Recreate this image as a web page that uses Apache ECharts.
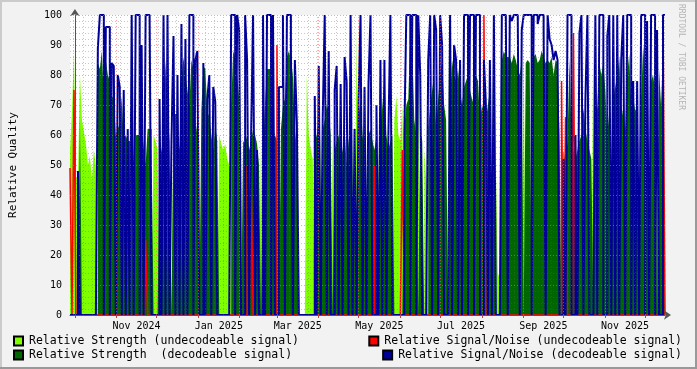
<!DOCTYPE html>
<html><head><meta charset="utf-8">
<script src="https://cdn.jsdelivr.net/npm/echarts@6/dist/echarts.min.js"></script>
<style>html,body{margin:0;padding:0;background:#f2f2f2}#c{width:697px;height:369px}</style>
</head><body><div id="c"></div>
<script>
// x in days since 2024-10-01; one consolidated sample every ~1.49 days (2 px)
const xStart = -3.7, xEnd = 440.9, sampleStep = 1.487;
const monthStarts = [0,31,61,92,123,151,182,212,243,273,304,335,365,396,426];
const labelDays = [46,107.5,166.5,227.5,288.5,350,411];
const labelTexts = ['Nov 2024','Jan 2025','Mar 2025','May 2025','Jul 2025','Sep 2025','Nov 2025'];

const strengthUndec = [
55,68,88,46,45,80,65,61,57,50, 53,45,55,50,0,0,0,88,0,0, 0,0,0,0,0,0,0,0,0,0,
0,0,57,0,0,0,0,0,0,0, 0,0,60,58,55,0,0,0,0,0, 0,62,0,0,0,0,0,0,0,0,
0,0,0,0,0,60,0,0,0,0, 0,0,0,0,0,60,57,55,57,52, 50,0,0,0,0,0,62,0,0,0,
0,0,0,0,0,0,60,0,0,0, 0,0,0,0,0,85,0,0,0,0, 0,0,0,0,0,0,0,0,0,80,
60,55,52,0,0,0,60,0,0,0, 0,0,58,0,0,0,0,0,0,0, 0,0,60,0,96,0,0,0,0,52,
0,0,0,0,0,58,0,0,0,0, 0,0,0,65,73,60,58,70,0,0, 0,0,0,0,0,87,0,0,55,45,
0,0,0,0,0,0,0,0,0,0, 88,0,0,0,0,0,0,0,0,0, 0,0,0,0,0,0,0,0,0,0,
0,0,87,0,50,14,12,0,0,0, 0,0,0,0,0,0,0,0,88,0, 0,0,100,0,0,0,0,0,0,0,
0,0,0,0,0,0,0,59,0,0, 0,0,0,0,0,0,0,0,0,0, 0,0,0,100,0,0,0,0,0,0,
0,0,62,0,0,0,0,0,0,0, 0,0,0,0,0,0,60,0,0,0, 0,65,0,0,0,79,0,0,0,0];

const strengthDec = [
0,0,0,0,0,66,0,0,0,0, 0,0,0,0,84,82,88,72,85,80, 78,73,72,60,62,64,73,58,60,58,
58,57,0,60,60,58,63,56,50,62, 62,55,0,0,0,52,55,60,85,70, 58,0,67,67,62,55,78,86,80,75,
70,85,82,65,60,0,68,83,82,68, 66,60,55,63,58,0,0,0,0,0, 0,70,88,86,80,72,0,58,57,60,
55,58,62,60,57,50,0,55,70,82, 82,80,62,60,58,0,62,70,72,86, 88,85,80,62,55,0,0,0,0,0,
0,0,0,58,60,65,0,62,65,70, 68,60,0,55,58,60,52,55,62,50, 58,62,0,57,0,66,72,60,55,0,
60,62,58,55,60,0,62,70,79,60, 55,58,60,0,0,0,0,0,62,70, 72,94,90,65,60,0,62,58,0,0,
62,70,75,80,62,72,80,85,70,65, 0,72,85,80,78,82,75,70,76,78, 80,75,72,70,80,78,65,70,68,65,
70,75,0,72,0,0,0,85,88,86, 86,86,84,87,85,82,80,85,0,84, 85,84,0,86,87,84,85,88,86,84,
85,84,86,80,85,84,60,0,55,50, 58,86,60,55,52,55,58,60,69,62, 58,55,52,0,60,70,84,80,84,75,
60,68,0,72,76,80,86,70,66,62, 80,87,70,73,68,70,0,72,90,80, 79,0,78,80,75,0,82,70,88,88];

const snUndec = [
49,0,75,0,0,0,0,0,0,0, 0,0,0,0,0,0,0,0,0,0, 0,0,0,0,0,0,0,0,0,0,
0,0,0,0,0,0,0,0,25,0, 0,0,0,0,0,0,0,0,0,0, 0,0,0,0,0,0,0,0,0,0,
0,0,0,0,0,0,0,0,0,0, 0,0,0,0,0,0,0,0,0,0, 0,0,0,0,0,0,0,0,0,50,
0,48,0,0,0,0,0,0,0,0, 0,0,0,0,90,0,0,0,0,0, 0,0,0,0,0,0,0,0,0,0,
0,0,0,0,0,0,0,0,0,0, 0,0,0,0,0,0,0,0,0,0, 0,0,0,0,0,0,0,0,0,0,
0,0,0,50,0,0,0,0,0,0, 0,0,0,0,0,0,0,55,0,0, 0,0,0,0,0,0,0,0,0,0,
0,0,0,0,0,0,0,0,0,0, 0,0,0,0,0,0,0,0,0,0, 0,0,0,0,0,0,0,0,100,0,
0,0,0,0,0,0,0,0,0,0, 0,0,0,0,0,0,0,0,0,0, 0,0,0,0,0,0,0,0,0,0,
0,0,0,0,0,0,0,78,0,66, 0,0,0,94,0,0,0,0,0,0, 0,0,0,0,0,0,0,0,0,0,
0,0,0,0,0,0,0,0,0,0, 0,0,0,0,0,0,0,0,0,0, 0,0,0,0,0,0,0,0,100,0];

const snDec = [
0,0,0,0,48,0,0,0,0,0, 0,0,0,0,89,100,100,0,96,96, 0,84,83,0,80,76,0,75,0,62,
0,100,0,100,100,0,90,0,100,100, 100,0,0,0,0,72,0,100,0,100, 0,58,93,0,80,0,97,0,92,0,
100,100,0,85,88,0,0,84,0,72, 80,0,76,71,0,0,0,0,0,0, 0,100,100,0,100,95,0,0,100,85,
0,60,100,0,55,0,0,100,0,100, 100,0,100,0,0,76,76,100,0,100, 100,90,0,85,64,0,0,0,0,0,
0,0,0,73,0,83,0,66,100,0, 88,0,0,75,83,0,77,0,86,78, 0,100,0,62,0,72,100,0,76,0,
77,100,0,0,70,0,85,0,85,0, 60,100,0,0,0,0,0,0,60,100, 100,0,100,100,0,100,80,0,0,0,
85,100,0,100,95,0,100,90,0,0, 0,100,0,90,85,0,85,0,100,100, 0,100,100,0,100,100,0,0,85,70,
0,85,0,100,0,0,0,100,100,100, 0,100,98,100,100,100,0,95,100,100, 100,100,0,100,100,97,100,100,95,0,
100,92,90,85,88,85,0,0,52,0, 100,100,0,0,60,0,94,100,0,72, 100,0,0,0,100,0,100,100,0,0,
93,100,0,100,0,100,0,85,100,0, 100,100,0,78,0,78,0,100,100,0, 98,0,100,100,0,95,0,0,100,100];

const pts = arr => arr.map((v,i)=>[xStart + i*sampleStep, v]);
const mondays = [];
for (let d = -1; d < xEnd; d += 7) mondays.push(d);
const minorY = [];
for (let v = 2; v < 100; v += 2) if (v % 10) minorY.push(v);

const mono = 'DejaVu Sans Mono';
const chart = echarts.init(document.getElementById('c'), null, {renderer:'canvas'});
const stepSeries = (name, arr, color, area, z, w) => ({
  name, type:'line', step:'end', data: pts(arr), symbol:'none', animation:false, clip:true,
  itemStyle:{color, borderColor:'#000', borderWidth:1},
  lineStyle: area ? {width:0, color} : {width:w, color},
  areaStyle: area ? {color, opacity:1, origin:'start'} : undefined,
  z
});
chart.setOption({
  backgroundColor:'#f2f2f2',
  animation:false,
  grid:{left:67, right:32, top:15, bottom:54, backgroundColor:'#ffffff', show:true, borderWidth:0},
  xAxis:{
    type:'value', min:xStart, max:xEnd, z:10,
    axisLine:{show:true, lineStyle:{color:'#555', width:1}, symbol:['none','arrow'], symbolSize:[7,7], symbolOffset:[0,6]},
    axisTick:{show:true, customValues:monthStarts, length:3, lineStyle:{color:'#c04040'}},
    axisLabel:{customValues:labelDays, formatter:v=>{const i=labelDays.indexOf(v);return i>=0?labelTexts[i]:'';}, fontFamily:mono, fontSize:10, color:'#000', margin:6},
    splitLine:{show:false}
  },
  yAxis:{
    type:'value', min:0, max:100, interval:10, z:10,
    name:'Relative Quality', nameLocation:'middle', nameGap:51, nameRotate:90,
    nameTextStyle:{fontFamily:mono, fontSize:11, color:'#000'},
    axisLine:{show:true, lineStyle:{color:'#555'}, symbol:['none','arrow'], symbolSize:[7,7], symbolOffset:[0,6]},
    axisTick:{show:false},
    axisLabel:{fontFamily:mono, fontSize:10, color:'#000', margin:8},
    splitLine:{show:false}
  },
  legend:[
    {data:['Relative Strength (undecodeable signal)'], left:13, top:335},
    {data:['Relative Strength  (decodeable signal)'], left:13, top:349},
    {data:['Relative Signal/Noise (undecodeable signal)'], right:15, top:335},
    {data:['Relative Signal/Noise (decodeable signal)'], right:15, top:349}
  ].map(l=>Object.assign(l,{icon:'rect', itemWidth:9, itemHeight:9, itemGap:0, padding:0,
     textStyle:{fontFamily:mono, fontSize:11.5, color:'#000', padding:[0,0,0,1]}, selectedMode:false})),
  series:[
    {type:'line', data:[], z:1, markLine:{silent:true, symbol:'none', animation:false, label:{show:false},
      lineStyle:{color:'rgba(95,95,95,0.35)', type:[1,2], width:1},
      data: mondays.map(d=>({xAxis:d})).concat(minorY.map(v=>({yAxis:v})))}},
    stepSeries('Relative Strength (undecodeable signal)', strengthUndec, '#80ff00', true, 2),
    stepSeries('Relative Strength  (decodeable signal)', strengthDec, '#006600', true, 2),
    stepSeries('Relative Signal/Noise (undecodeable signal)', snUndec, '#ff0000', false, 3, 1.5),
    stepSeries('Relative Signal/Noise (decodeable signal)', snDec, '#000099', false, 3, 2),
    {type:'line', data:[], z:5, markLine:{silent:true, symbol:'none', animation:false, label:{show:false},
      lineStyle:{color:'rgba(255,95,95,0.6)', type:[1,2], width:1},
      data: monthStarts.map(d=>({xAxis:d})).concat([10,20,30,40,50,60,70,80,90,100].map(v=>({yAxis:v})))}}
  ],
  graphic:[
    {type:'rect', shape:{x:0,y:0,width:697,height:2}, style:{fill:'#cbcbcb'}, silent:true},
    {type:'rect', shape:{x:0,y:0,width:2,height:369}, style:{fill:'#cbcbcb'}, silent:true},
    {type:'rect', shape:{x:695,y:0,width:2,height:369}, style:{fill:'#999999'}, silent:true},
    {type:'rect', shape:{x:0,y:367,width:697,height:2}, style:{fill:'#999999'}, silent:true},
    {type:'text', x:685, y:4, rotation:-Math.PI/2, style:{text:'RRDTOOL / TOBI OETIKER', font:'8px "DejaVu Sans Mono"', fill:'#b5b5b5'}, silent:true}
  ]
});
</script></body></html>
